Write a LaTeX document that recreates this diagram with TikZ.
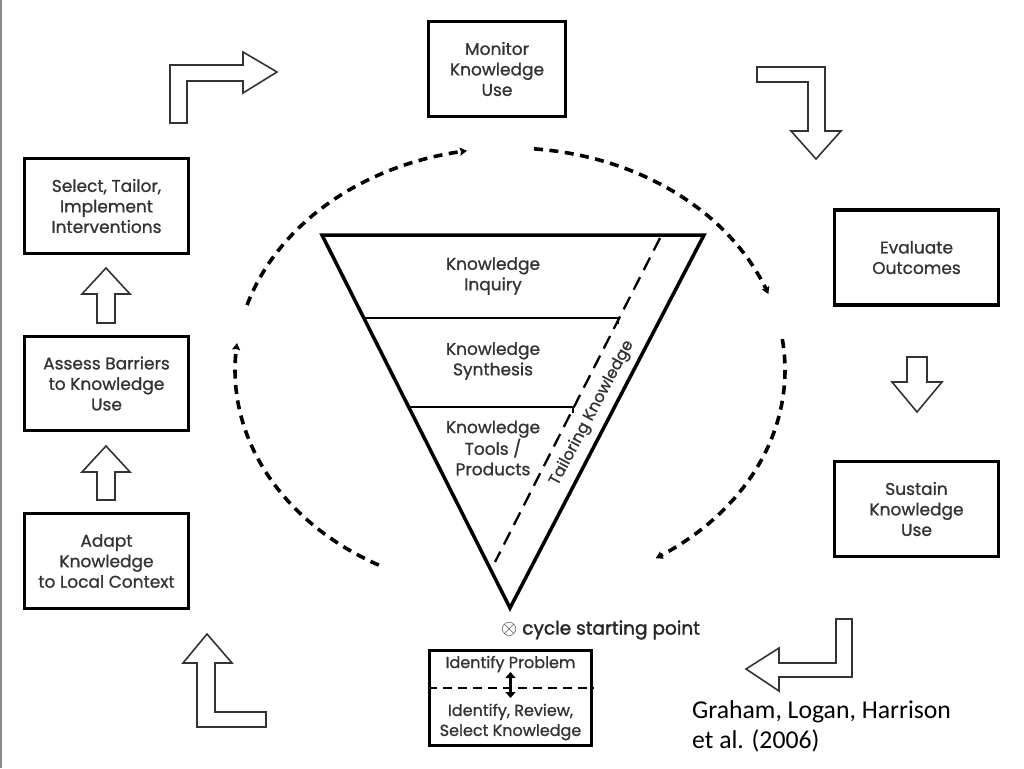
\documentclass[tikz,border=0pt]{standalone}
\usepackage{fontspec}
\setmainfont{Poppins}
\newfontfamily\boxfont{Poppins}[FakeBold=0.9]
\newfontfamily\startfont{Poppins}[FakeBold=1.6]
\newfontfamily\citefont{Carlito}
\usetikzlibrary{arrows.meta}
\begin{document}
\begin{tikzpicture}[x=1pt,y=-1pt,
  box/.style={draw=black, line width=3.5pt, align=center, inner sep=0pt,
    font=\boxfont\fontsize{17}{20.5}\selectfont, text=black!80},
  hollow/.style={draw=black!80, line width=1.6pt, fill=white, line join=miter},
  cyc/.style={line width=3.6pt, dash pattern=on 9pt off 6.5pt,
    -{Stealth[length=7pt,width=8pt,inset=1pt]}},
  tri/.style={line width=3.5pt, line join=miter},
  lbl/.style={align=center, font=\boxfont\fontsize{17}{20.5}\selectfont, text=black!80, inner sep=0pt}]
\useasboundingbox[fill=white] (0,0) rectangle (1024,768);
\draw[black!45, line width=1.5pt] (0.75,0) -- (0.75,768);

% boxes
\node[box, minimum width=137pt, minimum height=95pt] (mon) at (497,69) {Monitor\\Knowledge\\Use};
\node[box, minimum width=164pt, minimum height=95pt] (sel) at (106.5,206) {Select, Tailor,\\Implement\\Interventions};
\node[box, minimum width=164pt, minimum height=94pt] (ass) at (106.5,383.5) {Assess Barriers\\to Knowledge\\Use};
\node[box, minimum width=164pt, minimum height=95pt] (ada) at (106.5,561) {Adapt\\Knowledge\\to Local Context};
\node[box, minimum width=164pt, minimum height=95pt] (eva) at (916.5,257.5) {Evaluate\\Outcomes};
\node[box, minimum width=164pt, minimum height=95pt] (sus) at (916.5,509) {Sustain\\Knowledge\\Use};
\node[box, minimum width=162pt, minimum height=95pt] (idp) at (510.5,698) {};
\node[lbl, font=\boxfont\fontsize{16}{20}\selectfont] (idpt) at (510.5,664) {Identify Problem};
\node[lbl, font=\boxfont\fontsize{16}{20}\selectfont] (idrt) at (510.5,722) {Identify, Review,\\Select Knowledge};
\draw[line width=2.4pt, dash pattern=on 9pt off 6pt] (idp.west |- 0,688) -- (idp.east |- 0,688);
\coordinate (da) at (510.5,672);
\coordinate (db) at (510.5,698);
\draw[line width=2.8pt, {Triangle[length=6pt,width=10pt]}-{Triangle[length=6pt,width=10pt]}] (da) -- (db);

% hollow block arrows
\draw[hollow] (170,123) -- (170,65) -- (243,65) -- (243,52) -- (277,72) -- (243,93) -- (243,81) -- (187,81) -- (187,123) -- cycle;
\draw[hollow] (757,67) -- (825,67) -- (825,131) -- (841,131) -- (816,159) -- (791,131) -- (808,131) -- (808,82) -- (757,82) -- cycle;
\draw[hollow] (907,357) -- (927,357) -- (927,382) -- (942,382) -- (917,412) -- (892,382) -- (907,382) -- cycle;
\draw[hollow] (836,619) -- (852,619) -- (852,677) -- (779,677) -- (779,691) -- (746,669) -- (779,648) -- (779,663) -- (836,663) -- cycle;
\draw[hollow] (207,634) -- (232,663) -- (215,663) -- (215,712) -- (266,712) -- (266,727) -- (197,727) -- (197,663) -- (183,663) -- cycle;
\draw[hollow] (106,268) -- (130,294) -- (115,294) -- (115,323) -- (97,323) -- (97,294) -- (82,294) -- cycle;
\draw[hollow] (106,446) -- (130,472) -- (115,472) -- (115,500) -- (97,500) -- (97,472) -- (82,472) -- cycle;

% dashed cycle arcs (ellipse centre (510,370), radii 275 x 222)
\draw[cyc] plot[domain=-163:-99, samples=60] ({510+275*cos(\x)},{370+222*sin(\x)});
\draw[cyc] plot[domain=-85:-20, samples=60] ({510+275*cos(\x)},{370+222*sin(\x)});
\draw[cyc] plot[domain=-8:58, samples=60] ({510+275*cos(\x)},{370+222*sin(\x)});
\draw[cyc] plot[domain=118.5:187, samples=60] ({510+275*cos(\x)},{370+222*sin(\x)});

% knowledge creation funnel
\coordinate (tl) at (322,235);
\coordinate (tr) at (704,235);
\coordinate (ap) at (510,608);
\draw[tri] (tl) -- (tr) -- (ap) -- cycle;
\coordinate (l1a) at (365,318);
\coordinate (l1b) at (618,318);
\coordinate (l2a) at (410,407);
\coordinate (l2b) at (573,407);
\draw[line width=2.3pt] (l1a) -- (l1b) -- ++(0,6);
\draw[line width=2.3pt] (l2a) -- (l2b) -- ++(0,6);
\coordinate (ds) at (660,238);
\coordinate (de) at (495,562);
\draw[line width=2.3pt, dash pattern=on 14pt off 8pt] (ds) -- (de);
\node[lbl] (kin) at (493,276) {Knowledge\\Inquiry};
\node[lbl] (ksy) at (493,361) {Knowledge\\Synthesis};
\node[lbl] (kto) at (493,448) {Knowledge\\Tools /\\Products};
\node[lbl, rotate=62, font=\boxfont\fontsize{16}{20}\selectfont] (tk) at (592,413) {Tailoring Knowledge};
\node[inner sep=0pt, anchor=west, font=\startfont\fontsize{18.5}{20}\selectfont, text=black!85] (csp) at (501,630) {\fontsize{21}{20}\selectfont$\otimes$\fontsize{18.5}{20}\selectfont\ cycle starting point};

\node[inner sep=0pt, anchor=north west, align=left, font=\citefont\fontsize{25.7}{30}\selectfont] (cite) at (692,700) {Graham, Logan, Harrison\\et al. (2006)};
\end{tikzpicture}
\end{document}
